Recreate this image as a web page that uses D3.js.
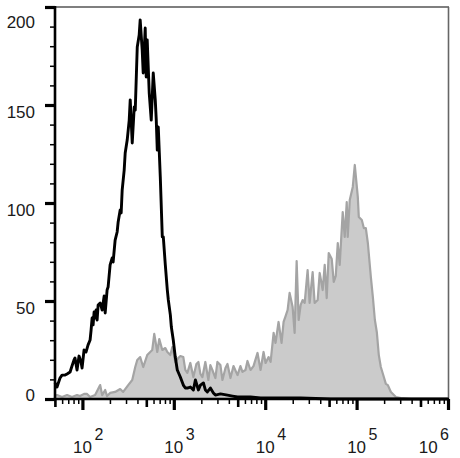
<!DOCTYPE html>
<html>
<head>
<meta charset="utf-8">
<script src="https://cdn.jsdelivr.net/npm/d3@7"></script>
<style>
html,body{margin:0;padding:0;background:#fff;}
svg{display:block;}
</style>
</head>
<body>
<svg id="chart" width="460" height="458"></svg>
<script>
// ---- data (x in log10 fluorescence units, y in counts) ----
const blackLog = [
1.700,1.722,1.755,1.777,1.810,1.832,1.865,1.886,1.908,1.919,
1.941,1.963,1.985,1.996,2.018,2.040,2.062,2.084,2.095,2.106,
2.117,2.128,2.139,2.150,2.161,2.172,2.194,2.216,2.238,2.249,
2.270,2.281,2.303,2.325,2.336,2.358,2.380,2.391,2.413,2.424,
2.435,2.457,2.468,2.490,2.512,2.523,2.545,2.567,2.578,2.600,
2.621,2.632,2.654,2.665,2.687,2.698,2.709,2.731,2.753,2.775,
2.797,2.808,2.819,2.830,2.852,2.874,2.885,2.907,2.929,2.940,
2.962,2.973,2.994,3.016,3.038,3.071,3.104,3.126,3.148,3.181,
3.214,3.236,3.269,3.291,3.324,3.345,3.367,3.400,3.433,3.455,
3.510,3.587,3.642,3.697,3.784,3.839,3.949,4.168,4.388,4.717,
5.200,6.000];
const blackCount = [
8.2,6.1,10.7,12.2,12.2,12.8,13.8,16.8,19.9,20.9,
14.8,21.9,18.9,15.8,25.0,24.0,27.6,30.1,35.2,41.3,
37.8,44.4,41.3,45.4,40.3,48.0,49.0,45.4,52.6,43.9,
55.6,57.1,68.4,71.9,69.9,81.1,85.2,90.3,96.4,94.9,
106.6,116.8,125.5,132.1,142.3,152.6,130.6,149.0,147.4,179.6,
185.7,193.4,178.1,166.3,189.3,164.3,183.2,156.1,142.3,166.3,
152.6,142.3,127.0,138.8,113.3,82.7,82.7,68.4,55.6,50.5,
42.9,36.7,30.1,21.4,14.8,11.2,7.1,5.6,5.6,6.1,
4.6,9.7,4.6,7.1,8.2,4.6,3.6,5.6,3.1,2.0,
2.6,2.0,1.5,1.0,1.0,1.0,0.5,0.5,0.5,0,
0,0];

const grayLog = [
1.700,1.722,1.777,1.832,1.886,1.941,1.974,2.018,2.051,2.084,
2.139,2.194,2.216,2.249,2.270,2.303,2.358,2.413,2.446,2.501,
2.545,2.578,2.600,2.632,2.665,2.709,2.742,2.764,2.786,2.819,
2.841,2.874,2.907,2.929,2.962,2.984,3.016,3.049,3.071,3.104,
3.126,3.148,3.181,3.214,3.247,3.269,3.291,3.313,3.345,3.378,
3.400,3.422,3.455,3.477,3.510,3.532,3.565,3.587,3.620,3.653,
3.697,3.729,3.751,3.784,3.806,3.839,3.872,3.916,3.949,3.982,
4.004,4.037,4.059,4.092,4.113,4.146,4.179,4.201,4.223,4.245,
4.267,4.300,4.322,4.344,4.366,4.388,4.410,4.432,4.464,4.486,
4.519,4.541,4.574,4.596,4.629,4.651,4.673,4.695,4.728,4.750,
4.772,4.794,4.815,4.848,4.870,4.892,4.903,4.925,4.958,4.980,
5.013,5.024,5.057,5.079,5.101,5.123,5.156,5.178,5.200,5.221,
5.243,5.265,5.298,5.320,5.342,5.375,5.430,5.485,5.594,6.000];
const grayCount = [
1.5,2.0,1.0,2.0,1.0,2.0,1.5,2.6,2.6,1.0,
2.0,7.1,2.0,4.6,1.5,3.1,3.6,5.1,3.6,7.1,
9.7,16.3,19.9,21.4,16.3,22.4,24.0,25.0,33.2,24.0,
30.6,25.0,26.0,24.0,22.4,26.5,18.9,20.9,21.9,21.4,
14.8,13.3,18.4,11.2,17.9,18.9,12.8,11.2,18.9,9.7,
17.3,14.8,10.7,18.9,17.3,9.7,15.8,17.9,10.7,16.8,
12.2,16.8,13.8,14.8,19.4,14.8,16.8,23.5,14.8,24.0,
18.4,21.4,18.9,33.7,28.6,39.3,28.6,39.3,42.3,45.4,
54.1,46.9,33.7,70.4,40.3,48.0,50.5,49.0,65.8,49.0,
64.8,49.0,50.5,64.3,55.6,68.4,51.5,74.5,71.4,59.7,
62.8,79.6,68.4,95.4,82.7,100.5,82.7,101.5,108.2,119.4,
103.1,92.9,91.3,87.2,87.2,79.6,62.2,52.0,40.3,34.2,
22.4,16.3,11.2,7.7,7.1,3.6,1.0,0.5,0,0];

const yTickValues = [0, 50, 100, 150, 200];
const yMinorValues = [10,20,30,40,60,70,80,90,110,120,130,140,160,170,180,190];
const xExponents = [2, 3, 4, 5, 6];
const xMinorMultipliers = [2, 3, 4, 6, 7, 8, 9];
const xMediumMultiplier = 5;

(function draw() {
  const svg = d3.select("#chart");
  const pL = 55, pR = 448, pT = 7, pB = 399;
  const x = d3.scaleLog().domain([Math.pow(10, 1.7), 1e6]).range([pL, pR]);
  const y = d3.scaleLinear().domain([0, 200]).range([pB, pT]);
  const FONT = "Arial, 'Liberation Sans', Helvetica, sans-serif";

  const toPts = (lx, ly) => d3.zip(lx, ly).map(([l, c]) => ({v: Math.pow(10, l), c}));
  const grayPts = toPts(grayLog, grayCount);
  const blackPts = toPts(blackLog, blackCount);

  const area = d3.area().x(d => x(d.v)).y0(y(0)).y1(d => y(d.c));
  const line = d3.line().x(d => x(d.v)).y(d => y(d.c));
  svg.append("path").datum(grayPts).attr("d", area).attr("fill", "#cbcbcb");
  svg.append("path").datum(grayPts).attr("d", line).attr("fill", "none")
    .attr("stroke", "#a4a4a4").attr("stroke-width", 2.2).attr("stroke-linejoin", "round");

  svg.append("path").datum(blackPts).attr("d", line).attr("fill", "none")
    .attr("stroke", "#000").attr("stroke-width", 2.9).attr("stroke-linejoin", "round");

  // frame (top/right)
  svg.append("line").attr("x1", pL).attr("x2", pR + 1).attr("y1", pT).attr("y2", pT)
    .attr("stroke", "#555").attr("stroke-width", 1.6);
  svg.append("line").attr("x1", pR + 0.5).attr("x2", pR + 0.5).attr("y1", pT).attr("y2", pB)
    .attr("stroke", "#666").attr("stroke-width", 1.6);

  // x ticks
  const majors = xExponents.map(e => Math.pow(10, e));
  const mediums = [], minors = [];
  for (let e = 1; e <= 5; e++) {
    const p = Math.pow(10, e);
    mediums.push(xMediumMultiplier * p);
    xMinorMultipliers.forEach(m => minors.push(m * p));
  }
  const inDom = v => v >= 49 && v <= 1.01e6;
  function xTicks(vals, size, w) {
    const g = svg.append("g").attr("transform", `translate(0,${pB})`)
      .call(d3.axisBottom(x).tickValues(vals.filter(inDom)).tickSize(size).tickSizeOuter(0).tickFormat(""));
    g.select(".domain").remove();
    g.selectAll(".tick line").attr("stroke", "#000").attr("stroke-width", w);
  }
  xTicks(minors, 5, 1.5);
  xTicks(mediums, 8, 2.6);
  xTicks(majors, 11, 3.2);

  // y ticks
  const gyMinor = svg.append("g").attr("transform", `translate(${pL},0)`)
    .call(d3.axisLeft(y).tickValues(yMinorValues).tickSize(5).tickSizeOuter(0).tickFormat(""));
  gyMinor.select(".domain").remove();
  gyMinor.selectAll(".tick line").attr("stroke", "#000").attr("stroke-width", 1.5);

  const gy = svg.append("g").attr("transform", `translate(${pL},0)`)
    .call(d3.axisLeft(y).tickValues(yTickValues).tickSize(10).tickSizeOuter(0).tickPadding(10));
  gy.select(".domain").remove();
  gy.selectAll(".tick line").attr("stroke", "#000").attr("stroke-width", 3.2);
  gy.selectAll(".tick text")
    .attr("font-family", FONT).attr("font-size", 17).attr("fill", "#1a1a1a")
    .attr("dy", "0.36em")
    .attr("y", d => {
      const cy = Math.min(Math.max(y(d) + 6.5, 21), 394);
      return cy - y(d);
    });

  // axis lines
  svg.append("line").attr("x1", pL).attr("x2", pL).attr("y1", pT - 1).attr("y2", pB + 1.3)
    .attr("stroke", "#000").attr("stroke-width", 2.6);
  svg.append("line").attr("x1", pL - 1.3).attr("x2", pR + 1).attr("y1", pB).attr("y2", pB)
    .attr("stroke", "#000").attr("stroke-width", 2.6);

  // x labels 10^n
  const lab = svg.append("g");
  xExponents.forEach(e => {
    const cx = x(Math.pow(10, e));
    const t = lab.append("text").attr("font-family", FONT).attr("fill", "#1a1a1a").attr("y", 453);
    const base = t.append("tspan").attr("font-size", 17).text("10");
    const sup = t.append("tspan").attr("font-size", 16).attr("dx", 2.5).attr("dy", -13).text(String(e));
    const w10 = base.node().getComputedTextLength();
    const ws = sup.node().getComputedTextLength();
    let start = cx - w10 / 2;
    const total = w10 + 2.5 + ws;
    if (start + total > 449) start = 449 - total;
    t.attr("x", start);
  });
})();
</script>
</body>
</html>
